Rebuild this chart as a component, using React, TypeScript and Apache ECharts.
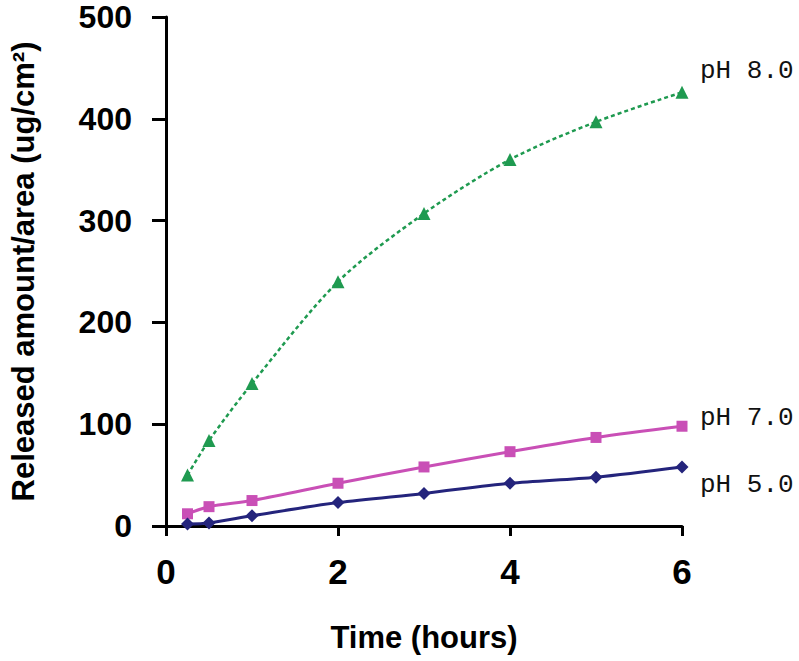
import React, { useEffect, useRef } from "react";
import * as echarts from "echarts";

const timesHours = [0.25, 0.5, 1, 2, 3, 4, 5, 6];
const seriesNames = ["pH 8.0", "pH 7.0", "pH 5.0"];
const ph8Values = [50, 84, 140, 240, 307, 360, 397, 426];
const ph7Values = [12, 19, 25, 42, 58, 73, 87, 98];
const ph5Values = [2, 3, 10, 23, 32, 42, 48, 58];
const xTicks = [0, 2, 4, 6];
const yTicks = [0, 100, 200, 300, 400, 500];

const pair = (vals: number[]) => timesHours.map((t, i) => [t, vals[i]]);

export default function App() {
  const ref = useRef<HTMLDivElement>(null);
  useEffect(() => {
    if (!ref.current) return;
    const chart = echarts.init(ref.current, undefined, { renderer: "svg" });
    const labelBase = {
      show: true,
      fontFamily: "Liberation Mono",
      fontSize: 26,
      color: "#111",
    };
    chart.setOption({
      animation: false,
      backgroundColor: "#fff",
      grid: { left: 160, right: 117, top: 17, bottom: 135 },
      xAxis: {
        type: "value",
        min: xTicks[0],
        max: xTicks[xTicks.length - 1],
        interval: 2,
        name: "Time (hours)",
        nameLocation: "middle",
        nameGap: 96,
        nameTextStyle: {
          fontFamily: "Liberation Sans",
          fontWeight: "bold",
          fontSize: 31,
          color: "#000",
        },
        axisLine: { lineStyle: { color: "#000", width: 3 } },
        axisTick: { length: 10, lineStyle: { color: "#000", width: 3 } },
        axisLabel: {
          margin: 28,
          fontFamily: "Liberation Sans",
          fontWeight: "bold",
          fontSize: 35,
          color: "#000",
        },
        splitLine: { show: false },
      },
      yAxis: {
        type: "value",
        min: yTicks[0],
        max: yTicks[yTicks.length - 1],
        interval: 100,
        name: "Released amount/area (ug/cm²)",
        nameLocation: "middle",
        nameGap: 127,
        nameTextStyle: {
          fontFamily: "Liberation Sans",
          fontWeight: "bold",
          fontSize: 31,
          color: "#000",
        },
        axisLine: { show: true, lineStyle: { color: "#000", width: 3 } },
        axisTick: { show: true, length: 14, lineStyle: { color: "#000", width: 3 } },
        axisLabel: {
          margin: 34,
          fontFamily: "Liberation Sans",
          fontWeight: "bold",
          fontSize: 32,
          color: "#000",
        },
        splitLine: { show: false },
      },
      series: [
        {
          name: seriesNames[0],
          type: "line",
          data: pair(ph8Values),
          smooth: 0.3,
          symbol: "triangle",
          symbolSize: 13,
          itemStyle: { color: "#1f9a50" },
          lineStyle: { color: "#1f9a50", width: 2.5, type: [4, 3] },
          endLabel: { ...labelBase, formatter: seriesNames[0], offset: [10, -21] },
        },
        {
          name: seriesNames[1],
          type: "line",
          data: pair(ph7Values),
          smooth: 0.3,
          symbol: "rect",
          symbolSize: 11,
          itemStyle: { color: "#c94fb6" },
          lineStyle: { color: "#c94fb6", width: 3 },
          endLabel: { ...labelBase, formatter: seriesNames[1], offset: [10, -8] },
        },
        {
          name: seriesNames[2],
          type: "line",
          data: pair(ph5Values),
          smooth: 0.3,
          symbol: "diamond",
          symbolSize: 13,
          itemStyle: { color: "#24247c" },
          lineStyle: { color: "#24247c", width: 3 },
          endLabel: { ...labelBase, formatter: seriesNames[2], offset: [10, 18] },
        },
      ],
    });
    return () => chart.dispose();
  }, []);
  return (
    <div
      ref={ref}
      style={{ position: "absolute", left: 0, top: 0, width: 799, height: 661 }}
    />
  );
}
